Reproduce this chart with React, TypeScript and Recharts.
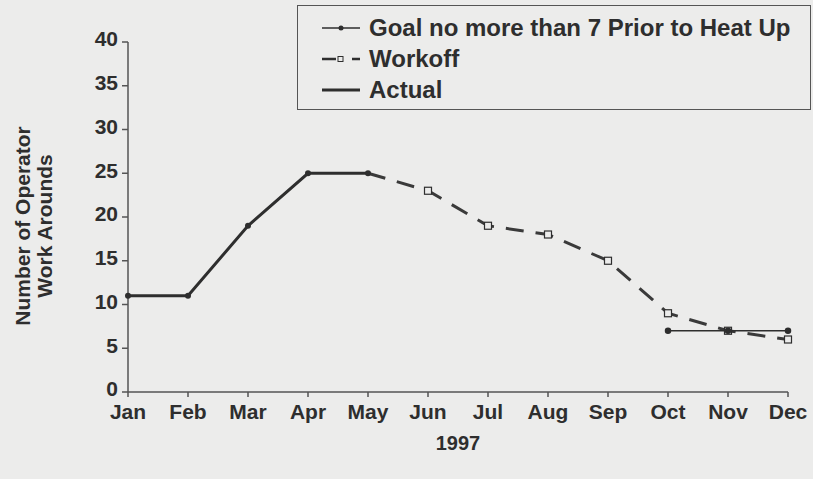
import React from "react";
import { Label, Line, LineChart, XAxis, YAxis } from "recharts";

// values
const months = ["Jan", "Feb", "Mar", "Apr", "May", "Jun", "Jul", "Aug", "Sep", "Oct", "Nov", "Dec"];
const actual = [11, 11, 19, 25, 25, null, null, null, null, null, null, null];
const workoff = [null, null, null, null, 25, 23, 19, 18, 15, 9, 7, 6];
const goal = [null, null, null, null, null, null, null, null, null, 7, 7, 7];
const yTicks = [0, 5, 10, 15, 20, 25, 30, 35, 40];

const data = months.map((m, i) => ({
  month: m,
  actual: actual[i],
  workoff: workoff[i],
  goal: goal[i]
}));

const ink = "#2e2e2e";
const paper = "#ececeb";
const font = "'Liberation Sans', Arial, sans-serif";

function SquareDot(props: any) {
  const { cx, cy, index } = props;
  if (cx == null || cy == null || index === 4) return null;
  return <rect key={index} x={cx - 3.5} y={cy - 3.5} width={7} height={7} fill={paper} stroke={ink} strokeWidth={1.2} />;
}

function LegendBox() {
  const row = (icon: React.ReactNode, text: string) => (
    <div style={{ display: "flex", alignItems: "center", height: 31 }}>
      <svg width={44} height={12} style={{ marginRight: 5 }}>{icon}</svg>
      <span>{text}</span>
    </div>
  );
  return (
    <div
      style={{
        position: "absolute",
        left: 297,
        top: 5,
        width: 490,
        border: "1.5px solid #555",
        background: paper,
        padding: "6px 0 4px 22px",
        fontFamily: font,
        fontWeight: "bold",
        fontSize: 24,
        color: ink,
        lineHeight: 1
      }}
    >
      {row(
        <g>
          <line x1={2} y1={6} x2={40} y2={6} stroke={ink} strokeWidth={1.5} />
          <circle cx={21} cy={6} r={2.5} fill={ink} />
        </g>,
        "Goal no more than 7 Prior to Heat Up"
      )}
      {row(
        <g>
          <line x1={2} y1={6} x2={16} y2={6} stroke={ink} strokeWidth={2.5} />
          <rect x={18} y={3.5} width={5} height={5} fill={paper} stroke={ink} strokeWidth={1} />
          <line x1={32} y1={6} x2={40} y2={6} stroke={ink} strokeWidth={2.5} />
        </g>,
        "Workoff"
      )}
      {row(
        <g>
          <line x1={2} y1={6} x2={40} y2={6} stroke={ink} strokeWidth={3} />
        </g>,
        "Actual"
      )}
    </div>
  );
}

function YTitle() {
  const cy = 218;
  return (
    <g fontFamily={font} fontWeight="bold" fontSize={21} fill={ink}>
      <text x={14} y={cy} textAnchor="middle" dominantBaseline="central" transform={`rotate(-90 14 ${cy})`}>
        Number of Operator
      </text>
      <text x={36} y={cy} textAnchor="middle" dominantBaseline="central" transform={`rotate(-90 36 ${cy})`}>
        Work Arounds
      </text>
    </g>
  );
}

export default function App() {
  const tickStyle = { fontFamily: font, fontWeight: "bold" as const, fontSize: 21, fill: ink };
  return (
    <div style={{ position: "absolute", left: 0, top: 0, width: 813, height: 479, background: paper }}>
      <div style={{ position: "absolute", left: 8, top: 8 }}>
        <LineChart width={805} height={471} data={data} margin={{ top: 34, right: 25, left: 50, bottom: 27 }}>
          <XAxis
            dataKey="month"
            tick={tickStyle}
            tickSize={5}
            tickMargin={7}
            stroke="#555"
            strokeWidth={1.5}
            height={60}
            interval={0}
          >
            <Label
              value="1997"
              position="insideBottom"
              offset={2}
              style={{ fontFamily: font, fontWeight: "bold", fontSize: 20, fill: ink }}
            />
          </XAxis>
          <YAxis
            domain={[0, 40]}
            ticks={yTicks}
            tick={{ ...tickStyle, dy: -3 }}
            tickSize={6}
            tickMargin={4}
            stroke="#555"
            strokeWidth={1.5}
            width={70}
            interval={0}
          >
            <Label content={YTitle} />
          </YAxis>
          <Line
            dataKey="actual"
            name="Actual"
            stroke={ink}
            strokeWidth={3}
            dot={{ r: 1.5, fill: ink, stroke: ink }}
            isAnimationActive={false}
          />
          <Line
            dataKey="workoff"
            name="Workoff"
            stroke="#3a3a3a"
            strokeWidth={3}
            strokeDasharray="18 12"
            dot={SquareDot}
            isAnimationActive={false}
          />
          <Line
            dataKey="goal"
            name="Goal no more than 7 Prior to Heat Up"
            stroke={ink}
            strokeWidth={1.5}
            dot={{ r: 2.5, fill: ink, stroke: ink }}
            isAnimationActive={false}
          />
        </LineChart>
      </div>
      <LegendBox />
    </div>
  );
}
